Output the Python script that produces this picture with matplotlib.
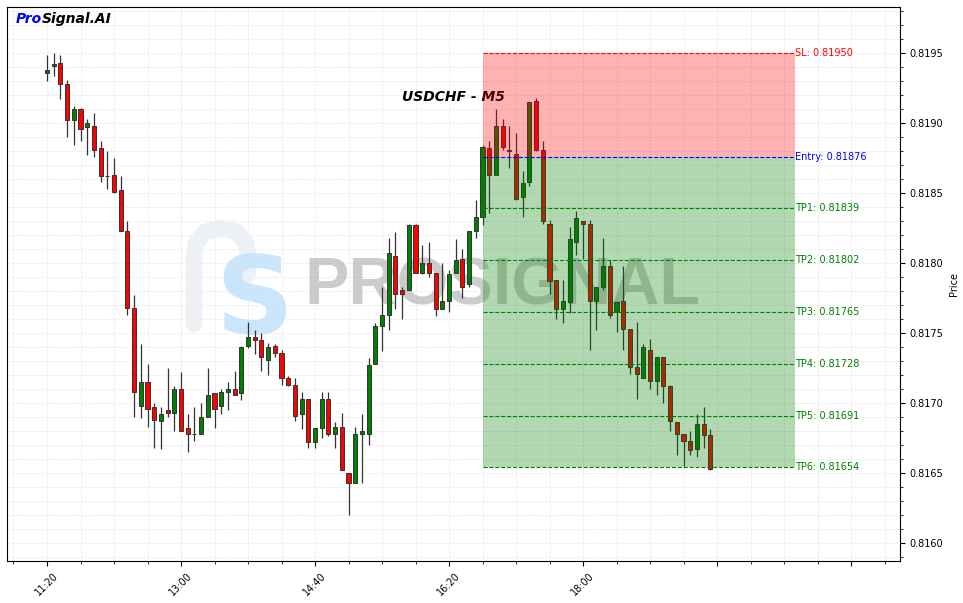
import numpy as np
import pandas as pd
import matplotlib
matplotlib.use("Agg")
import matplotlib.pyplot as plt
from matplotlib.ticker import MultipleLocator, FixedLocator, NullFormatter


# ═══════════════════════════════════════════════════════════
#  DATA  —  USDCHF M5 candles
# ═══════════════════════════════════════════════════════════

START_TIME = "2024-01-01 11:20"

opens = [0.81936, 0.81941, 0.81943, 0.81928, 0.81902, 0.81910, 0.81897, 0.81898, 0.81882, 0.81862,
         0.81863, 0.81852, 0.81823, 0.81768, 0.81698, 0.81715, 0.81697, 0.81687, 0.81695, 0.81693,
         0.81710, 0.81682, 0.81678, 0.81678, 0.81690, 0.81707, 0.81698, 0.81708, 0.81710, 0.81707,
         0.81741, 0.81747, 0.81745, 0.81731, 0.81741, 0.81736, 0.81718, 0.81713, 0.81692, 0.81703,
         0.81672, 0.81682, 0.81703, 0.81678, 0.81683, 0.81650, 0.81643, 0.81678, 0.81678, 0.81728,
         0.81755, 0.81763, 0.81805, 0.81781, 0.81781, 0.81827, 0.81793, 0.81800, 0.81793, 0.81767,
         0.81773, 0.81793, 0.81803, 0.81785, 0.81823, 0.81833, 0.81882, 0.81863, 0.81898, 0.81881,
         0.81878, 0.81847, 0.81858, 0.81916, 0.81881, 0.81828, 0.81788, 0.81767, 0.81772, 0.81815,
         0.81830, 0.81828, 0.81773, 0.81783, 0.81798, 0.81765, 0.81773, 0.81753, 0.81726, 0.81718,
         0.81738, 0.81716, 0.81733, 0.81712, 0.81686, 0.81678, 0.81673, 0.81667, 0.81685, 0.81677]
highs = [0.81949, 0.81950, 0.81949, 0.81931, 0.81912, 0.81911, 0.81903, 0.81907, 0.81887, 0.81880,
         0.81875, 0.81862, 0.81830, 0.81777, 0.81742, 0.81728, 0.81700, 0.81697, 0.81725, 0.81712,
         0.81722, 0.81692, 0.81697, 0.81700, 0.81725, 0.81707, 0.81710, 0.81715, 0.81723, 0.81741,
         0.81758, 0.81752, 0.81750, 0.81743, 0.81742, 0.81738, 0.81719, 0.81718, 0.81708, 0.81703,
         0.81682, 0.81708, 0.81708, 0.81686, 0.81693, 0.81650, 0.81683, 0.81692, 0.81732, 0.81757,
         0.81783, 0.81818, 0.81822, 0.81783, 0.81828, 0.81828, 0.81813, 0.81815, 0.81793, 0.81800,
         0.81795, 0.81817, 0.81810, 0.81823, 0.81845, 0.81884, 0.81887, 0.81910, 0.81903, 0.81898,
         0.81893, 0.81866, 0.81915, 0.81918, 0.81887, 0.81831, 0.81788, 0.81788, 0.81826, 0.81837,
         0.81830, 0.81831, 0.81783, 0.81818, 0.81802, 0.81773, 0.81798, 0.81753, 0.81758, 0.81742,
         0.81746, 0.81733, 0.81733, 0.81713, 0.81686, 0.81678, 0.81680, 0.81692, 0.81697, 0.81681]
lows = [0.81930, 0.81934, 0.81917, 0.81890, 0.81884, 0.81887, 0.81877, 0.81876, 0.81858, 0.81853,
        0.81850, 0.81823, 0.81763, 0.81690, 0.81689, 0.81683, 0.81668, 0.81667, 0.81690, 0.81680,
        0.81680, 0.81665, 0.81673, 0.81678, 0.81690, 0.81682, 0.81692, 0.81695, 0.81706, 0.81702,
        0.81739, 0.81735, 0.81723, 0.81720, 0.81733, 0.81713, 0.81712, 0.81687, 0.81681, 0.81668,
        0.81668, 0.81675, 0.81676, 0.81668, 0.81652, 0.81620, 0.81643, 0.81643, 0.81670, 0.81728,
        0.81737, 0.81752, 0.81767, 0.81760, 0.81781, 0.81793, 0.81792, 0.81790, 0.81762, 0.81767,
        0.81765, 0.81793, 0.81775, 0.81783, 0.81818, 0.81827, 0.81836, 0.81863, 0.81881, 0.81868,
        0.81845, 0.81833, 0.81855, 0.81880, 0.81828, 0.81778, 0.81760, 0.81757, 0.81764, 0.81806,
        0.81803, 0.81738, 0.81752, 0.81781, 0.81761, 0.81751, 0.81738, 0.81721, 0.81703, 0.81718,
        0.81710, 0.81706, 0.81700, 0.81680, 0.81663, 0.81655, 0.81663, 0.81661, 0.81668, 0.81652]
closes = [0.81938, 0.81942, 0.81928, 0.81902, 0.81910, 0.81896, 0.81900, 0.81881, 0.81862, 0.81862,
          0.81851, 0.81823, 0.81768, 0.81708, 0.81715, 0.81696, 0.81688, 0.81692, 0.81693, 0.81710,
          0.81680, 0.81678, 0.81678, 0.81690, 0.81706, 0.81696, 0.81708, 0.81710, 0.81706, 0.81740,
          0.81747, 0.81745, 0.81733, 0.81740, 0.81736, 0.81718, 0.81713, 0.81691, 0.81703, 0.81672,
          0.81682, 0.81703, 0.81678, 0.81683, 0.81652, 0.81643, 0.81678, 0.81680, 0.81727, 0.81755,
          0.81763, 0.81807, 0.81778, 0.81778, 0.81827, 0.81793, 0.81800, 0.81793, 0.81767, 0.81773,
          0.81792, 0.81802, 0.81783, 0.81823, 0.81833, 0.81883, 0.81863, 0.81898, 0.81883, 0.81880,
          0.81846, 0.81857, 0.81915, 0.81881, 0.81830, 0.81787, 0.81767, 0.81773, 0.81817, 0.81832,
          0.81828, 0.81773, 0.81783, 0.81798, 0.81763, 0.81772, 0.81753, 0.81726, 0.81721, 0.81740,
          0.81716, 0.81733, 0.81712, 0.81687, 0.81678, 0.81673, 0.81666, 0.81685, 0.81677, 0.81653]

ENTRY_IDX = 65
ENTRY     = 0.81876
STOP_LOSS = 0.81950
TP_LEVELS = [0.81839, 0.81802, 0.81765, 0.81728, 0.81691, 0.81654]
TP_NAMES  = ["TP1", "TP2", "TP3", "TP4", "TP5", "TP6"]

X_TICKS       = [0, 20, 40, 60, 80, 100, 120]
X_TICK_LABELS = ["11:20", "13:00", "14:40", "16:20", "18:00", "", ""]


# ═══════════════════════════════════════════════════════════
#  FIGURE
# ═══════════════════════════════════════════════════════════

o = np.array(opens)
h = np.array(highs)
l = np.array(lows)
c = np.array(closes)
x = np.arange(len(o))
times = pd.date_range(START_TIME, periods=len(o), freq="5min")

fig = plt.figure(figsize=(9.63, 6.03), dpi=100)
ax = fig.add_axes([7 / 963, 42 / 603, 893 / 963, 554 / 603])

up = c >= o
body_col = np.where(up, "green", "red")

ax.vlines(x, l, h, color="#333333", linewidth=0.9, zorder=2)
ax.bar(x, np.abs(c - o), bottom=np.minimum(o, c), width=0.62,
       color=body_col, edgecolor="#333333", linewidth=0.7, zorder=3)

# trade zones (drawn over the candles, like the original)
x_end = ENTRY_IDX + 46.6
ax.fill_between([ENTRY_IDX, x_end], ENTRY, STOP_LOSS, color="red", alpha=0.3, linewidth=0, zorder=4)
ax.fill_between([ENTRY_IDX, x_end], TP_LEVELS[-1], ENTRY, color="green", alpha=0.3, linewidth=0, zorder=4)

ax.hlines(STOP_LOSS, ENTRY_IDX, x_end, colors="red", linestyles="--", linewidth=0.8, zorder=5)
ax.text(x_end, STOP_LOSS, f"SL: {STOP_LOSS:.5f}", color="red", fontsize=7, va="center", ha="left")
ax.hlines(ENTRY, ENTRY_IDX, x_end, colors="blue", linestyles="--", linewidth=0.8, zorder=5)
ax.text(x_end, ENTRY, f"Entry: {ENTRY:.5f}", color="blue", fontsize=7, va="center", ha="left")
for name, lvl in zip(TP_NAMES, TP_LEVELS):
    ax.hlines(lvl, ENTRY_IDX, x_end, colors="green", linestyles="--", linewidth=0.8, zorder=5)
    ax.text(x_end, lvl, f"{name}: {lvl:.5f}", color="green", fontsize=7, va="center", ha="left")

# watermark
ax.text(0.555, 0.493, "PROSIGNAL", transform=ax.transAxes, fontsize=48, fontweight="bold",
        family="Liberation Sans", color="#9a9a9a", alpha=0.5, ha="center", va="center", zorder=1)
px = np.array([194, 194, 196, 205, 221, 237, 246, 248, 248, 236])
py = np.array([324, 256, 243, 232, 228, 232, 243, 256, 274, 284])
ax.plot((px - 7) / 893, (561 - py) / 554, transform=ax.transAxes, color="#edf1f6",
        linewidth=12, solid_capstyle="round", solid_joinstyle="round", zorder=1)
ax.text((254 - 7) / 893, (561 - 303) / 554, "S", transform=ax.transAxes, fontsize=78,
        fontweight="bold", color="#c6e3fa", ha="center", va="center", zorder=1, alpha=0.9)

# titles
ax.text(0.5, 0.838, "USDCHF - M5", transform=ax.transAxes, fontsize=10,
        fontweight="bold", fontstyle="italic", ha="center", va="center")
t1 = ax.text(9 / 893, 1 - 12 / 554, "Pro", transform=ax.transAxes, fontsize=10,
             fontweight="bold", fontstyle="italic", color="blue", ha="left", va="center")
fig.canvas.draw()
bb = t1.get_window_extent().transformed(ax.transAxes.inverted())
ax.text(bb.x1, 1 - 12 / 554, "Signal.AI", transform=ax.transAxes, fontsize=10,
        fontweight="bold", fontstyle="italic", color="black", ha="left", va="center")

# axes
ax.set_xlim(-5.97, 127.31)
ax.set_ylim(0.81587, 0.81983)
ax.xaxis.set_major_locator(FixedLocator(X_TICKS))
ax.set_xticklabels(X_TICK_LABELS, rotation=45, fontsize=7)
ax.xaxis.set_minor_locator(MultipleLocator(5))
ax.xaxis.set_minor_formatter(NullFormatter())
ax.yaxis.tick_right()
ax.yaxis.set_label_position("right")
ax.yaxis.set_major_locator(MultipleLocator(0.0005))
ax.yaxis.set_minor_locator(MultipleLocator(0.0001))
ax.yaxis.set_major_formatter(matplotlib.ticker.FormatStrFormatter("%.4f"))
ax.tick_params(axis="y", labelsize=7)
ax.set_ylabel("Price", fontsize=7)
ax.grid(True, which="both", color="#d8d8d8", linestyle="--", linewidth=0.5, alpha=0.6)
ax.set_axisbelow(True)

plt.savefig("out.png", dpi=100)
